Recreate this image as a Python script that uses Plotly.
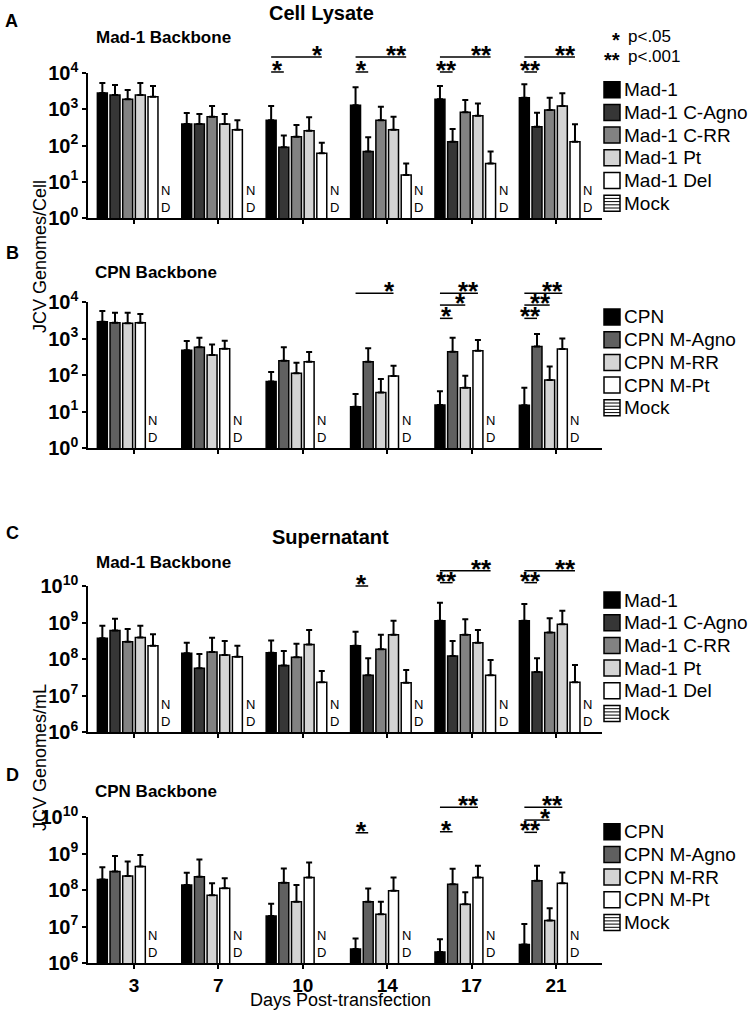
import plotly.graph_objects as go

W, H = 756, 1014
FONT = "Liberation Sans, Arial, sans-serif"

# ---------------- data ----------------
days = ["3", "7", "10", "14", "17", "21"]

mad_names = ["Mad-1", "Mad-1 C-Agno", "Mad-1 C-RR", "Mad-1 Pt", "Mad-1 Del"]
cpn_names = ["CPN", "CPN M-Agno", "CPN M-RR", "CPN M-Pt"]
mock_name = "Mock"
mad_colors = ["#000000", "#363636", "#828282", "#d4d4d4", "#ffffff"]
cpn_colors = ["#000000", "#606060", "#d4d4d4", "#ffffff"]

# Panel A: Cell lysate, Mad-1 backbone (JCV genomes/cell): means and top of SD whisker
a_mad1      = [2800, 390, 500, 1290, 1880, 2090]
a_mad1_top  = [5300, 790, 1230, 4050, 4400, 4880]
a_cagno     = [2460, 390, 89, 68, 127, 330]
a_cagno_top = [4700, 740, 190, 168, 285, 800]
a_crr       = [1880, 620, 175, 500, 825, 955]
a_crr_top   = [3400, 1230, 370, 1175, 1810, 2090]
a_pt        = [2460, 390, 255, 270, 665, 1230]
a_pt_top    = [5300, 740, 600, 620, 1450, 2760]
a_del       = [2220, 270, 61, 15.4, 32, 127]
a_del_top   = [4400, 500, 120, 32, 68, 385]

# Panel B: Cell lysate, CPN backbone (JCV genomes/cell)
b_cpn       = [2890, 480, 66, 13.5, 15, 14.8]
b_cpn_top   = [5650, 850, 120, 30, 36, 45]
b_magno     = [2700, 575, 245, 230, 435, 600]
b_magno_top = [5100, 1050, 575, 540, 1050, 1320]
b_mrr       = [2610, 355, 111, 33, 45, 73]
b_mrr_top   = [5100, 680, 218, 78, 96, 170]
b_mpt       = [2700, 525, 230, 94, 465, 515]
b_mpt_top   = [4700, 870, 425, 179, 910, 1000]

# Panel C: Supernatant, Mad-1 backbone (JCV genomes/mL)
c_mad1      = [3.7e8, 1.44e8, 1.48e8, 2.3e8, 1.12e9, 1.12e9]
c_mad1_top  = [8.1e8, 2.8e8, 3.2e8, 5.6e8, 3.5e9, 3.2e9]
c_cagno     = [6.0e8, 5.6e7, 6.6e7, 3.6e7, 1.2e8, 4.4e7]
c_cagno_top = [1.26e9, 1.38e8, 1.66e8, 1.05e8, 3.1e8, 1.05e8]
c_crr       = [2.95e8, 1.55e8, 1.12e8, 1.86e8, 4.6e8, 5.3e8]
c_crr_top   = [6.6e8, 3.8e8, 2.6e8, 4.6e8, 1.23e9, 1.3e9]
c_pt        = [3.9e8, 1.29e8, 2.5e8, 4.6e8, 2.8e8, 8.9e8]
c_pt_top    = [8.1e8, 3.1e8, 6.2e8, 1.12e9, 6.2e8, 2.1e9]
c_del       = [2.3e8, 1.15e8, 2.3e7, 2.24e7, 3.6e7, 2.3e7]
c_del_top   = [4.8e8, 2.3e8, 4.7e7, 5.0e7, 9.4e7, 6.9e7]

# Panel D: Supernatant, CPN backbone (JCV genomes/mL)
d_cpn       = [1.95e8, 1.37e8, 1.95e7, 2.4e6, 2.0e6, 3.2e6]
d_cpn_top   = [4.2e8, 2.95e8, 4.2e7, 4.7e6, 4.5e6, 1.17e7]
d_magno     = [3.2e8, 2.3e8, 1.59e8, 4.8e7, 1.44e8, 1.78e8]
d_magno_top = [8.5e8, 6.9e8, 3.9e8, 1.1e8, 3.8e8, 4.6e8]
d_mrr       = [2.4e8, 7.2e7, 4.8e7, 2.15e7, 4.1e7, 1.45e7]
d_mrr_top   = [6.0e8, 1.52e8, 1.37e8, 4.8e7, 8.7e7, 3.15e7]
d_mpt       = [4.4e8, 1.11e8, 2.2e8, 9.5e7, 2.2e8, 1.52e8]
d_mpt_top   = [9.1e8, 2.1e8, 5.7e8, 2.2e8, 4.6e8, 3.0e8]

# significance marks: (day index, from bar, to bar, height in axis-domain units, label)
sig_a = [(2, 0, 1, 1.007, "*"), (2, 0, 4, 1.11, "*"),
         (3, 0, 1, 1.007, "*"), (3, 0, 4, 1.11, "**"),
         (4, 0, 1, 1.007, "**"), (4, 0, 4, 1.11, "**"),
         (5, 0, 1, 1.007, "**"), (5, 0, 4, 1.11, "**")]
sig_b = [(3, 0, 3, 1.06, "*"),
         (4, 0, 3, 1.06, "**"), (4, 0, 2, 0.979, "*"), (4, 0, 1, 0.888, "*"),
         (5, 0, 3, 1.06, "**"), (5, 0, 2, 0.979, "**"), (5, 0, 1, 0.888, "**")]
sig_c = [(3, 0, 1, 1.0, "*"),
         (4, 0, 1, 1.023, "**"), (4, 0, 4, 1.105, "**"),
         (5, 0, 1, 1.023, "**"), (5, 0, 4, 1.105, "**")]
sig_d = [(3, 0, 1, 0.892, "*"),
         (4, 0, 3, 1.066, "**"), (4, 0, 1, 0.899, "*"),
         (5, 0, 3, 1.066, "**"), (5, 0, 2, 0.979, "*"), (5, 0, 1, 0.895, "**")]

# ---------------- layout helpers ----------------
def px(x):
    return x / W

def py(y):
    return 1 - y / H

SLOT = 0.15
BARW = 0.118

def slot_x(g, k):
    return g + (k - 2.5) * SLOT

panels = [
    dict(names=mad_names, colors=mad_colors,
         means=[a_mad1, a_cagno, a_crr, a_pt, a_del],
         tops=[a_mad1_top, a_cagno_top, a_crr_top, a_pt_top, a_del_top],
         top=73, bot=218, yr=(0, 4), sig=sig_a, nd_slot=5,
         leg_y=89.7),
    dict(names=cpn_names, colors=cpn_colors,
         means=[b_cpn, b_magno, b_mrr, b_mpt],
         tops=[b_cpn_top, b_magno_top, b_mrr_top, b_mpt_top],
         top=302, bot=448, yr=(0, 4), sig=sig_b, nd_slot=4,
         leg_y=317),
    dict(names=mad_names, colors=mad_colors,
         means=[c_mad1, c_cagno, c_crr, c_pt, c_del],
         tops=[c_mad1_top, c_cagno_top, c_crr_top, c_pt_top, c_del_top],
         top=586, bot=732, yr=(6, 10), sig=sig_c, nd_slot=5,
         leg_y=600),
    dict(names=cpn_names, colors=cpn_colors,
         means=[d_cpn, d_magno, d_mrr, d_mpt],
         tops=[d_cpn_top, d_magno_top, d_mrr_top, d_mpt_top],
         top=817, bot=963, yr=(6, 10), sig=sig_d, nd_slot=4,
         leg_y=831.7),
]

fig = go.Figure()
shapes = []
annotations = []
layout_axes = {}

X0, X1 = 88, 602
LEG_X = 604
LEG_STEP = 22.7

for i, p in enumerate(panels):
    n = i + 1
    xa = "x" if n == 1 else f"x{n}"
    ya = "y" if n == 1 else f"y{n}"
    xkey = "xaxis" if n == 1 else f"xaxis{n}"
    ykey = "yaxis" if n == 1 else f"yaxis{n}"

    for k, (name, col, m, t) in enumerate(zip(p["names"], p["colors"], p["means"], p["tops"])):
        plus = [tt - mm for tt, mm in zip(t, m)]
        fig.add_trace(go.Bar(
            x=list(range(len(days))), y=m, name=name,
            xaxis=xa, yaxis=ya,
            offset=(k - 2.5) * SLOT - BARW / 2, width=BARW,
            marker=dict(color=col, line=dict(color="black", width=1.5)),
            error_y=dict(type="data", array=plus, arrayminus=[0] * len(m),
                         symmetric=False, color="black", thickness=2, width=3),
            showlegend=False,
        ))

    last = (i == 3)
    layout_axes[xkey] = dict(
        domain=[px(X0), px(X1)], anchor=ya, range=[-0.545, 5.545],
        automargin=False,
        showline=True, linecolor="black", linewidth=1.5,
        ticks="outside", ticklen=4, tickwidth=1.5, tickcolor="black",
        tickvals=list(range(len(days))),
        ticktext=[f"<b>{d}</b>" for d in days],
        showticklabels=last, showgrid=False, zeroline=False,
        tickfont=dict(family=FONT, size=19, color="black"),
    )
    lo, hi = p["yr"]
    layout_axes[ykey] = dict(
        domain=[py(p["bot"]), py(p["top"])], anchor=xa, type="log",
        automargin=False,
        range=[lo, hi], showline=True, linecolor="black", linewidth=1.5,
        ticks="outside", ticklen=4, tickwidth=1.5, tickcolor="black",
        tickvals=[10 ** e for e in range(lo, hi + 1)],
        ticktext=[f"<b>10<sup>{e}</sup></b>" for e in range(lo, hi + 1)],
        showgrid=False, zeroline=False,
        tickfont=dict(family=FONT, size=20, color="black"),
    )

    # N D labels for mock
    for g in range(len(days)):
        annotations.append(dict(
            x=slot_x(g, p["nd_slot"]), y=0, xref=xa, yref=f"{ya} domain",
            text="N<br>D", showarrow=False, xanchor="center", yanchor="bottom",
            yshift=1, font=dict(family=FONT, size=13, color="black")))

    # significance lines and stars
    for (g, k0, k1, lev, lab) in p["sig"]:
        xs, xe = slot_x(g, k0), slot_x(g, k1)
        shapes.append(dict(type="line", xref=xa, yref=f"{ya} domain",
                           x0=xs, x1=xe, y0=lev, y1=lev,
                           line=dict(color="black", width=1.5)))
        if k1 - k0 <= 1:
            annotations.append(dict(x=(xs + xe) / 2, y=lev, xref=xa, yref=f"{ya} domain",
                                    text=f"<b>{lab}</b>", showarrow=False, xanchor="center",
                                    yanchor="bottom", yshift=-15,
                                    font=dict(family=FONT, size=26, color="black")))
        else:
            annotations.append(dict(x=xe, y=lev, xref=xa, yref=f"{ya} domain",
                                    text=f"<b>{lab}</b>", showarrow=False, xanchor="right",
                                    yanchor="bottom", yshift=-15, xshift=3,
                                    font=dict(family=FONT, size=26, color="black")))

    # legend (swatches + names)
    entries = list(zip(p["names"], p["colors"])) + [(mock_name, None)]
    for j, (name, col) in enumerate(entries):
        cy = p["leg_y"] + j * LEG_STEP
        y0, y1 = cy - 8, cy + 8
        shapes.append(dict(type="rect", xref="paper", yref="paper",
                           x0=px(LEG_X), x1=px(LEG_X + 16), y0=py(y1), y1=py(y0),
                           fillcolor=col if col else "white",
                           line=dict(color="black", width=1.5)))
        if col is None:
            for s in range(1, 5):
                ly = y0 + s * 16 / 5
                shapes.append(dict(type="line", xref="paper", yref="paper",
                                   x0=px(LEG_X), x1=px(LEG_X + 16), y0=py(ly), y1=py(ly),
                                   line=dict(color="black", width=1)))
        annotations.append(dict(x=px(LEG_X + 18), y=py(cy), xref="paper", yref="paper",
                                text=name, showarrow=False, xanchor="left", yanchor="middle",
                                font=dict(family=FONT, size=19, color="black")))

# p-value key
annotations += [
    dict(x=px(622), y=py(37), xref="paper", yref="paper", text="<b>*</b>", showarrow=False,
         xanchor="right", yanchor="bottom", yshift=-16,
         font=dict(family=FONT, size=20, color="black")),
    dict(x=px(626), y=py(37), xref="paper", yref="paper", text="p<.05", showarrow=False,
         xanchor="left", yanchor="middle", font=dict(family=FONT, size=17, color="black")),
    dict(x=px(622), y=py(57), xref="paper", yref="paper", text="<b>**</b>", showarrow=False,
         xanchor="right", yanchor="bottom", yshift=-16,
         font=dict(family=FONT, size=20, color="black")),
    dict(x=px(626), y=py(57), xref="paper", yref="paper", text="p<.001", showarrow=False,
         xanchor="left", yanchor="middle", font=dict(family=FONT, size=17, color="black")),
]

# titles & labels
def txt(x, y, s, size, bold=False, angle=0):
    return dict(x=px(x), y=py(y), xref="paper", yref="paper",
                text=f"<b>{s}</b>" if bold else s, showarrow=False,
                xanchor="center", yanchor="middle", textangle=angle,
                font=dict(family=FONT, size=size, color="black"))

annotations += [
    txt(11, 21, "A", 18, True), txt(12, 253, "B", 18, True),
    txt(12, 533, "C", 18, True), txt(12, 775, "D", 18, True),
    txt(321, 13, "Cell Lysate", 20, True),
    txt(330, 537, "Supernatant", 20, True),
    txt(163, 38, "Mad-1 Backbone", 17, True),
    txt(156, 273, "CPN Backbone", 17, True),
    txt(163, 562, "Mad-1 Backbone", 17, True),
    txt(156, 791, "CPN Backbone", 17, True),
    txt(40, 257, "JCV Genomes/Cell", 18, False, -90),
    txt(40, 758, "JCV Genomes/mL", 18, False, -90),
    txt(340, 1000, "Days Post-transfection", 18),
]

fig.update_layout(
    width=W, height=H, margin=dict(l=0, r=0, t=0, b=0, pad=0, autoexpand=False),
    paper_bgcolor="white", plot_bgcolor="white",
    barmode="overlay", showlegend=False,
    font=dict(family=FONT, color="black"),
    shapes=shapes, annotations=annotations,
    **layout_axes,
)

fig.write_html("out.html",
               config={"displayModeBar": False},
               post_script="document.body.style.margin='0';document.body.style.overflow='hidden';")
